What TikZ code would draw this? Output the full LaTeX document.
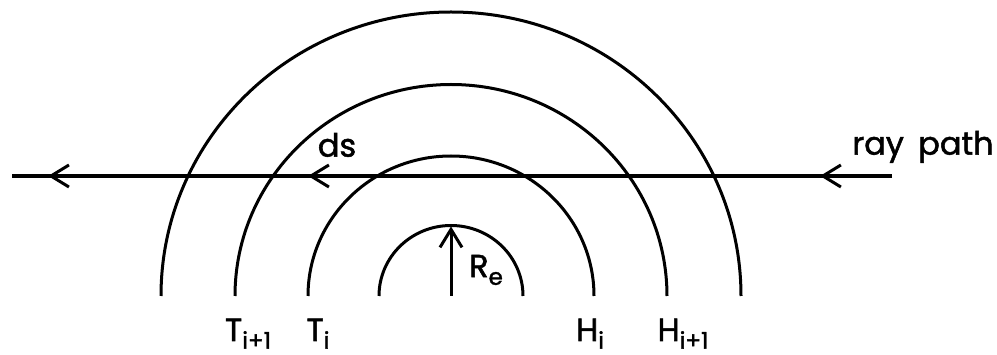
\documentclass[tikz,border=0pt]{standalone}
\usepackage{fontspec}
\setmainfont{Poppins}[FakeBold=1.6]
\usetikzlibrary{arrows.meta,decorations.markings,calc}
\newcommand{\lblsub}[2]{#1\raisebox{-0.24em}[0pt][0pt]{\fontsize{23}{25}\selectfont #2}}
\begin{document}
\begin{tikzpicture}[x=1pt,y=-1pt,
  curve/.style={line width=3pt},
  barb/.tip={Straight Barb[length=18pt,width=22pt,line width=3pt]},
  lbl/.style={inner sep=0pt,font=\fontsize{32}{36}\selectfont},
  raypath/.style={line width=3.2pt,postaction={decorate},
    decoration={markings,
      mark=at position 0.0818 with {\arrow{barb}},
      mark=at position 0.6636 with {\arrow{barb}},
      mark=at position 0.959 with {\arrow{barb}}}}]
\useasboundingbox (0,0) rectangle (997,355);
% centre of the arcs
\coordinate (O) at (451,296);
% semicircles (slightly flattened as in the original)
\draw[curve] ($(O)+(-72,0)$) coordinate (a1) arc[start angle=180,end angle=360,x radius=72,y radius=70.5];
\draw[curve] ($(O)+(-143,0)$) coordinate (a2) arc[start angle=180,end angle=360,x radius=143,y radius=140];
\draw[curve] ($(O)+(-216,0)$) coordinate (a3) arc[start angle=180,end angle=360,x radius=216,y radius=211.5];
\draw[curve] ($(O)+(-290,0)$) coordinate (a4) arc[start angle=180,end angle=360,x radius=290,y radius=284];
% ray path
\coordinate (R) at (892,176);
\coordinate (L) at (12,176);
\draw[raypath] (R) -- (L);
% radius arrow
\coordinate (Etop) at (451,226.5);
\draw[curve,-{barb}] (O) -- (Etop);
% labels
\node[lbl] (re) at (486,266) {\lblsub{R}{e}};
\node[lbl] (ds) at (337,145) {ds};
\node[lbl] (ray) at (923,147) {ray\hspace{0.45em}path};
\node[lbl,anchor=base] (t2) at (248,341) {\lblsub{T}{i+1}};
\node[lbl,anchor=base] (t1) at (318,341) {\lblsub{T}{i}};
\node[lbl,anchor=base] (h1) at (590,341) {\lblsub{H}{i}};
\node[lbl,anchor=base] (h2) at (683,341) {\lblsub{H}{i+1}};
\end{tikzpicture}
\end{document}
